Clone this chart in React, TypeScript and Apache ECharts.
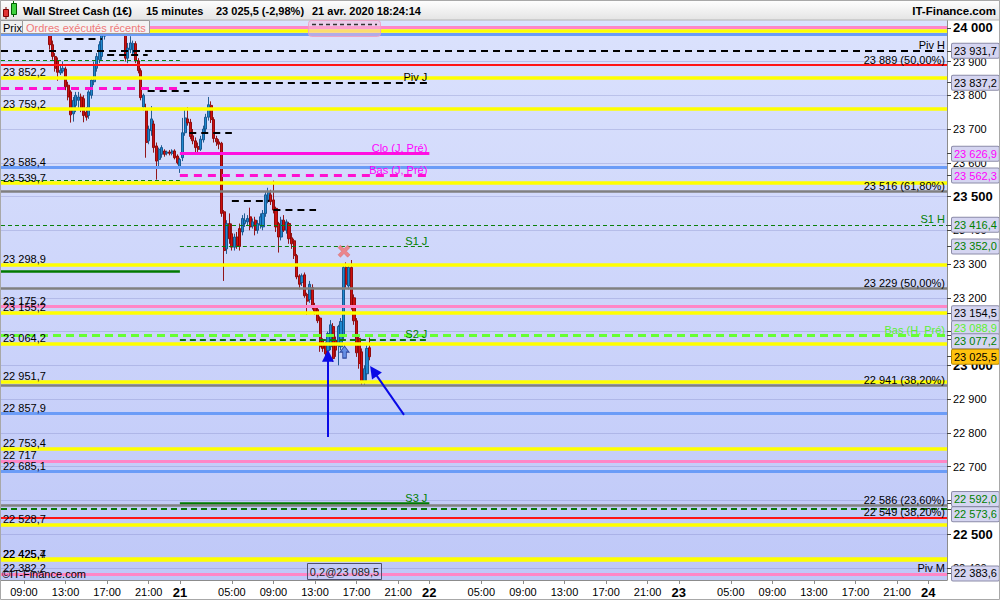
import React, { useEffect, useRef } from "react";
import * as echarts from "echarts";

const FONT = '"Liberation Sans", Arial, Helvetica, sans-serif';

// x axis: hours since 2020-04-20 00:00
const X_MIN = 6.79;
const X_MAX = 97.8;
const Y_MIN = 22364;
const Y_MAX = 24023;
const DAY_START = 24; // 21 avr. 00:00
const DAY_END = 48; // 22 avr. 00:00

const FIRST_CANDLE_HOUR = 11.5; // 20 avr. 11:30
const CANDLE_HOURS = 0.25; // 15 minutes

// [open, close, low, high]
const candles: number[][] = [
  [23995, 23950, 23935, 24012],
  [23950, 23915, 23905, 23962],
  [23915, 23880, 23870, 23925],
  [23902, 23868, 23843, 23912],
  [23866, 23874, 23860, 23888],
  [23872, 23880, 23865, 23900],
  [23878, 23825, 23815, 23885],
  [23830, 23795, 23785, 23840],
  [23810, 23742, 23719, 23815],
  [23745, 23785, 23722, 23795],
  [23770, 23800, 23750, 23810],
  [23785, 23795, 23760, 23810],
  [23795, 23760, 23750, 23805],
  [23790, 23740, 23720, 23800],
  [23750, 23735, 23725, 23765],
  [23740, 23810, 23730, 23815],
  [23800, 23845, 23790, 23850],
  [23840, 23890, 23830, 23900],
  [23880, 23915, 23870, 23925],
  [23905, 23950, 23895, 23960],
  [23915, 23982, 23905, 23995],
  [23975, 24010, 23965, 24030],
  [24010, 23995, 23988, 24025],
  [23995, 24030, 23990, 24042],
  [24030, 24050, 24020, 24065],
  [24050, 24035, 24025, 24060],
  [24035, 24015, 24005, 24045],
  [24015, 24040, 24008, 24050],
  [24040, 24005, 23995, 24050],
  [24005, 23910, 23900, 24015],
  [23910, 23940, 23895, 23955],
  [23935, 23955, 23925, 23975],
  [23925, 23953, 23918, 23962],
  [23953, 23902, 23895, 23960],
  [23902, 23873, 23865, 23910],
  [23873, 23793, 23785, 23880],
  [23765, 23800, 23755, 23805],
  [23760, 23660, 23615, 23775],
  [23665, 23700, 23655, 23710],
  [23695, 23730, 23680, 23768],
  [23715, 23645, 23630, 23725],
  [23650, 23605, 23550, 23660],
  [23610, 23640, 23590, 23645],
  [23625, 23645, 23615, 23652],
  [23635, 23625, 23618, 23640],
  [23628, 23632, 23622, 23636],
  [23632, 23628, 23622, 23638],
  [23628, 23635, 23622, 23640],
  [23635, 23615, 23610, 23640],
  [23620, 23600, 23595, 23625],
  [23585, 23610, 23570, 23615],
  [23615, 23689, 23605, 23733],
  [23689, 23733, 23680, 23760],
  [23730, 23718, 23710, 23765],
  [23720, 23678, 23670, 23730],
  [23680, 23665, 23655, 23700],
  [23665, 23645, 23625, 23675],
  [23648, 23640, 23632, 23660],
  [23640, 23670, 23635, 23680],
  [23668, 23700, 23660, 23710],
  [23700, 23735, 23690, 23745],
  [23735, 23772, 23725, 23795],
  [23770, 23728, 23718, 23782],
  [23728, 23672, 23660, 23735],
  [23672, 23662, 23650, 23680],
  [23662, 23655, 23640, 23670],
  [23658, 23450, 23440, 23662],
  [23455, 23340, 23250, 23460],
  [23345, 23420, 23330, 23430],
  [23420, 23375, 23360, 23450],
  [23390, 23350, 23340, 23420],
  [23350, 23380, 23340, 23390],
  [23380, 23355, 23345, 23395],
  [23405, 23352, 23340, 23420],
  [23395, 23435, 23385, 23445],
  [23420, 23430, 23410, 23450],
  [23425, 23435, 23415, 23445],
  [23440, 23410, 23400, 23467],
  [23412, 23425, 23405, 23435],
  [23430, 23400, 23385, 23440],
  [23400, 23420, 23390, 23430],
  [23415, 23440, 23405, 23450],
  [23410, 23450, 23400, 23460],
  [23450, 23505, 23440, 23515],
  [23490, 23515, 23480, 23526],
  [23505, 23485, 23475, 23520],
  [23490, 23460, 23450, 23547],
  [23465, 23410, 23395, 23470],
  [23420, 23380, 23334, 23425],
  [23380, 23430, 23370, 23440],
  [23430, 23400, 23395, 23445],
  [23400, 23425, 23390, 23432],
  [23420, 23375, 23360, 23425],
  [23378, 23360, 23345, 23392],
  [23369, 23325, 23315, 23375],
  [23325, 23262, 23255, 23330],
  [23265, 23240, 23225, 23270],
  [23245, 23265, 23235, 23272],
  [23268, 23206, 23200, 23275],
  [23210, 23190, 23150, 23215],
  [23195, 23240, 23185, 23250],
  [23230, 23171, 23165, 23240],
  [23175, 23160, 23150, 23185],
  [23165, 23132, 23125, 23170],
  [23140, 23055, 23040, 23145],
  [23073, 23050, 23040, 23080],
  [23064, 23034, 23020, 23070],
  [23043, 23094, 23030, 23100],
  [23055, 23120, 23045, 23134],
  [23115, 23020, 23010, 23125],
  [23075, 23045, 23025, 23085],
  [23058, 23115, 23000, 23120],
  [23055, 23130, 23045, 23140],
  [23085, 23290, 23075, 23300],
  [23290, 23240, 23230, 23305],
  [23235, 23290, 23225, 23300],
  [23290, 23175, 23165, 23312],
  [23200, 23132, 23120, 23210],
  [23132, 23037, 23025, 23140],
  [23080, 23005, 22990, 23090],
  [23040, 22950, 22942, 23050],
  [22950, 22990, 22942, 23000],
  [22975, 23050, 22950, 23060],
  [23052, 23025.5, 23015, 23082],
];

const xTickHours = [9, 13, 17, 21, 24, 29, 33, 37, 41, 45, 48, 53, 57, 61, 65, 69, 72, 77, 81, 85, 89, 93, 96];
const yTickValues = [
  22400, 22500, 22600, 22700, 22800, 22900, 23000, 23100, 23200, 23300, 23400,
  23500, 23600, 23700, 23800, 23900, 24000,
];

// full-width levels: [price, style, left label, right label, right label colour]
const fullLevels: [number, string, string, string, string][] = [
  [24002, "pink", "", "", ""],
  [23992, "yellow", "", "", ""],
  [23982, "blue", "", "", ""],
  [23931.7, "black", "", "Piv H", "black"],
  [23889, "red", "", "23 889 (50,00%)", "black"],
  [23852.2, "yellow", "23 852,2", "", ""],
  [23759.2, "yellow", "23 759,2", "", ""],
  [23585.4, "blue", "23 585,4", "", ""],
  [23539.7, "yellow", "23 539,7", "", ""],
  [23516, "gray", "", "23 516 (61,80%)", "black"],
  [23416.4, "greenThin", "", "S1 H", "green"],
  [23298.9, "yellow", "23 298,9", "", ""],
  [23229, "gray", "", "23 229 (50,00%)", "black"],
  [23175.2, "pink", "23 175,2", "", ""],
  [23155.2, "yellow", "23 155,2", "", ""],
  [23088.9, "lime", "", "Bas (H, Pré)", "lime"],
  [23064.2, "yellow", "23 064,2", "", ""],
  [22951.7, "yellow", "22 951,7", "", ""],
  [22941, "gray", "", "22 941 (38,20%)", "black"],
  [22857.9, "blue", "22 857,9", "", ""],
  [22753.4, "yellow", "22 753,4", "", ""],
  [22717, "pink", "22 717", "", ""],
  [22685.1, "blue", "22 685,1", "", ""],
  [22586, "gray", "", "22 586 (23,60%)", "black"],
  [22573.6, "green", "", "", ""],
  [22549, "red", "", "22 549 (38,20%)", "black"],
  [22528.7, "yellow", "22 528,7", "", ""],
  [22425.7, "yellow", "22 425,7", "", ""],
  [22425.4, "yellow", "22 425,4", "", ""],
  [22382.2, "pink", "22 382,2", "", ""],
  [22383.6, "none", "", "Piv M", "black"],
];

// levels of the day (21 avr.): [price, style, label, label colour]
const dayLevels: [number, string, string, string][] = [
  [23837.2, "black", "Piv J", "black"],
  [23626.9, "magenta", "Clo (J, Pré)", "magenta"],
  [23562.3, "magentaDash", "Bas (J, Pré)", "magenta"],
  [23352.0, "greenThin", "S1 J", "green"],
  [23077.2, "green", "S2 J", "green"],
  [22592.0, "darkGreen", "S3 J", "green"],
];

// levels of the previous day (20 avr.): [price, style]
const prevDayLevels: [number, string][] = [
  [23904, "greenThin"],
  [23820, "magentaDash"],
  [23549, "greenThin"],
  [23280, "darkGreen"],
];

// 4-hour pivot segments: [from hour, to hour, price]
const blockLevels: [number, number, number][] = [
  [12.9, 16.5, 23966],
  [17.0, 20.9, 23921],
  [20.9, 24.9, 23813],
  [24.9, 29.0, 23690],
  [29.0, 32.6, 23487],
  [33.0, 37.1, 23460],
];

// price tags on the axis: [price, text, colour]
const priceTags: [number, string, string][] = [
  [23931.7, "23 931,7", "black"],
  [23837.2, "23 837,2", "black"],
  [23626.9, "23 626,9", "magenta"],
  [23562.3, "23 562,3", "magenta"],
  [23416.4, "23 416,4", "green"],
  [23352.0, "23 352,0", "green"],
  [23154.5, "23 154,5", "black"],
  [23088.9, "23 088,9", "lime"],
  [23077.2, "23 077,2", "green"],
  [22592.0, "22 592,0", "green"],
  [22573.6, "22 573,6", "green"],
  [22383.6, "22 383,6", "black"],
  [23025.5, "23 025,5", "last"],
];
// vertical nudge (px) of tags that would collide, as the reference stacks them
const TAG_NUDGE: Record<string, number> = {
  "23 088,9": -7,
  "23 077,2": 2,
  "22 592,0": -4,
  "22 573,6": 5,
};

// annotation arrows: [from hour, from price, to hour, to price]
const arrows: [number, number, number, number][] = [
  [38.25, 22788, 38.25, 23028],
  [45.56, 22853, 42.63, 22983],
];
const crossMark: [number, number] = [39.79, 23338];
const orderMark: [number, number] = [39.84, 23039];

const LINE_STYLES: Record<string, any> = {
  pink: { color: "#ff86c6", width: 3, type: "solid" },
  yellow: { color: "#ffff00", width: 3.5, type: "solid" },
  blue: { color: "#6b9cf7", width: 3, type: "solid" },
  red: { color: "#ff1414", width: 2, type: "solid" },
  gray: { color: "#808080", width: 2.5, type: "solid" },
  black: { color: "#000000", width: 2.2, type: [7, 5] },
  greenThin: { color: "#0a800a", width: 1, type: [4, 3] },
  green: { color: "#0a7a0a", width: 2.2, type: [6, 4] },
  lime: { color: "#66ff33", width: 3, type: [8, 5] },
  magenta: { color: "#ff10e0", width: 3, type: "solid" },
  magentaDash: { color: "#ff10d0", width: 3, type: [8, 6] },
  darkGreen: { color: "#007a00", width: 2.5, type: "solid" },
};
const TEXT_COLORS: Record<string, string> = {
  black: "#000000",
  green: "#008000",
  lime: "#5cf030",
  magenta: "#ff00ff",
  last: "#000000",
};

function thousands(v: number): string {
  const s = Math.round(v).toString();
  return s.slice(0, s.length - 3) + " " + s.slice(-3);
}

function buildOption(): any {
  const candleData = candles.map((c, i) => [FIRST_CANDLE_HOUR + i * CANDLE_HOURS, c[0], c[1], c[2], c[3]]);
  const hidden = { color: "rgba(0,0,0,0)", width: 0, opacity: 0 };
  const txt = { fontSize: 11, fontFamily: FONT, opacity: 1 };
  const leftLabel = (t: string) =>
    t ? { show: true, position: "insideStartTop", formatter: t, color: "#000", distance: [2, 0], ...txt } : { show: false };
  const rightLabel = (t: string, c: string) => ({
    show: true,
    position: "insideEndTop",
    formatter: t,
    color: TEXT_COLORS[c],
    distance: [2, 0],
    ...txt,
  });

  const items: any[] = [];
  prevDayLevels.forEach(([v, k]) =>
    items.push([{ coord: [X_MIN, v], lineStyle: { ...LINE_STYLES[k] }, label: { show: false } }, { coord: [DAY_START, v] }])
  );
  blockLevels.forEach(([a, b, v]) =>
    items.push([{ coord: [a, v], lineStyle: { ...LINE_STYLES.black }, label: { show: false } }, { coord: [b, v] }])
  );
  dayLevels.forEach(([v, k, t, c]) =>
    items.push([{ coord: [DAY_START, v], lineStyle: { ...LINE_STYLES[k] }, label: rightLabel(t, c) }, { coord: [DAY_END, v] }])
  );
  fullLevels.forEach(([v, k, left]) => {
    if (k !== "none") items.push({ yAxis: v, lineStyle: { ...LINE_STYLES[k] }, label: leftLabel(left) });
  });
  fullLevels.forEach(([v, , , right, c]) => {
    if (right) items.push({ yAxis: v, lineStyle: hidden, label: rightLabel(right, c) });
  });
  priceTags.forEach(([v, t, c]) =>
    items.push({
      yAxis: v,
      lineStyle: hidden,
      label: {
        show: true,
        position: "end",
        distance: 5,
        offset: [0, TAG_NUDGE[t] || 0],
        formatter: t,
        color: TEXT_COLORS[c],
        backgroundColor: c === "last" ? "#ffc20e" : "#d5d5f1",
        borderColor: c === "last" ? "#b88a00" : "#8c8ca8",
        borderWidth: 1,
        borderRadius: 1,
        padding: [2, 2, 1, 2],
        ...txt,
      },
    })
  );

  const gridBg = new echarts.graphic.LinearGradient(0, 0, 0, 1, [
    { offset: 0, color: "#dbe2fd" },
    { offset: 1, color: "#bfc8f8" },
  ]);
  const headerBg = new echarts.graphic.LinearGradient(0, 0, 0, 1, [
    { offset: 0, color: "#ffffff" },
    { offset: 1, color: "#e4e4e4" },
  ]);
  const headFont = `bold 11px ${FONT}`;

  return {
    animation: false,
    backgroundColor: "#ffffff",
    grid: {
      left: 1,
      right: 53,
      top: 20,
      bottom: 20,
      show: true,
      backgroundColor: gridBg,
      borderWidth: 0,
      containLabel: false,
      outerBoundsMode: "none",
    },
    xAxis: {
      type: "value",
      min: X_MIN,
      max: X_MAX,
      axisLine: { show: true, lineStyle: { color: "#8c8c8c" } },
      axisTick: { show: true, customValues: xTickHours, length: 4, lineStyle: { color: "#8c8c8c" } },
      axisLabel: {
        customValues: xTickHours,
        color: "#000",
        fontSize: 11,
        fontFamily: FONT,
        margin: 6,
        formatter: (v: number) => {
          const h = Math.round(v);
          if (h % 24 === 0) return `{d|${20 + h / 24}}`;
          const hh = h % 24;
          return (hh < 10 ? "0" : "") + hh + ":00";
        },
        rich: { d: { fontWeight: "bold", fontSize: 13, fontFamily: FONT, color: "#000" } },
      },
      splitLine: { show: false },
    },
    yAxis: {
      type: "value",
      position: "right",
      min: Y_MIN,
      max: Y_MAX,
      axisLine: { show: true, lineStyle: { color: "#8c8c8c" } },
      axisTick: {
        show: true,
        customValues: [...yTickValues, ...priceTags.map((p) => p[0])],
        length: 4,
        lineStyle: { color: "#444" },
      },
      axisLabel: {
        customValues: yTickValues,
        color: "#000",
        fontSize: 11,
        fontFamily: FONT,
        margin: 6,
        formatter: (v: number) => (v % 500 === 0 ? `{b|${thousands(v)}}` : thousands(v)),
        rich: { b: { fontWeight: "bold", fontSize: 13, fontFamily: FONT, color: "#000" } },
      },
      splitLine: { show: false },
    },
    series: [
      {
        type: "line",
        data: [],
        silent: true,
        clip: false,
        markLine: {
          silent: true,
          symbol: "none",
          z: 1,
          animation: false,
          emphasis: { disabled: true },
          lineStyle: { color: "rgba(110,120,185,0.28)", width: 1, type: "solid" },
          label: { show: false },
          data: yTickValues.map((v) => ({ yAxis: v })),
        },
      },
      {
        type: "candlestick",
        z: 2,
        data: candleData,
        barWidth: 2.6,
        clip: true,
        silent: true,
        itemStyle: {
          color: "#1f88cf",
          color0: "#cc1010",
          borderColor: "#0f4f88",
          borderColor0: "#8a0000",
          borderWidth: 0.9,
        },
      },
      {
        type: "line",
        data: [],
        silent: true,
        clip: false,
        markLine: {
          silent: true,
          symbol: "none",
          z: 5,
          animation: false,
          emphasis: { disabled: true },
          data: items,
        },
      },
      {
        type: "scatter",
        z: 10,
        silent: true,
        data: [crossMark],
        symbol:
          "path://M0,2 L2,0 L5,3 L8,0 L10,2 L7,5 L10,8 L8,10 L5,7 L2,10 L0,8 L3,5 Z",
        symbolSize: 12,
        itemStyle: { color: "#f07070", borderColor: "#d85858", borderWidth: 0.5 },
      },
      {
        type: "scatter",
        z: 10,
        silent: true,
        data: [orderMark],
        symbol: "path://M5,0 L10,6 L7,6 L7,12 L3,12 L3,6 L0,6 Z",
        symbolSize: [9, 12],
        itemStyle: { color: "#4d7ee0", borderColor: "#1a2f88", borderWidth: 1 },
        markLine: {
          silent: true,
          z: 10,
          animation: false,
          symbol: ["none", "triangle"],
          symbolSize: 12,
          emphasis: { disabled: true },
          lineStyle: { color: "#0a0ae6", width: 2, type: "solid" },
          label: { show: false },
          data: arrows.map((a) => [{ coord: [a[0], a[1]] }, { coord: [a[2], a[3]] }]),
        },
      },
    ],
    graphic: [
      { type: "rect", z: 100, shape: { x: 0, y: 0, width: 1000, height: 20 }, style: { fill: headerBg, stroke: "#b4b4b4" } },
      { type: "line", z: 101, shape: { x1: 6, y1: 7, x2: 6, y2: 19 }, style: { stroke: "#7a0000", lineWidth: 1 } },
      { type: "rect", z: 101, shape: { x: 3.5, y: 9.5, width: 5, height: 7 }, style: { fill: "#e03434", stroke: "#7a0000" } },
      { type: "line", z: 101, shape: { x1: 13.5, y1: 1, x2: 13.5, y2: 17 }, style: { stroke: "#006600", lineWidth: 1 } },
      { type: "rect", z: 101, shape: { x: 11.5, y: 3.5, width: 5, height: 11 }, style: { fill: "#3ed23e", stroke: "#006000" } },
      { type: "text", z: 101, x: 23, y: 11, style: { text: "Wall Street Cash (1€)", font: headFont, fill: "#000", verticalAlign: "middle" } },
      { type: "text", z: 101, x: 146, y: 11, style: { text: "15 minutes", font: headFont, fill: "#000", verticalAlign: "middle" } },
      { type: "text", z: 101, x: 216, y: 11, style: { text: "23 025,5 (-2,98%)", font: headFont, fill: "#000", verticalAlign: "middle" } },
      { type: "text", z: 101, x: 312, y: 11, style: { text: "21 avr. 2020 18:24:14", font: headFont, fill: "#000", verticalAlign: "middle" } },
      { type: "text", z: 101, x: 996, y: 11, style: { text: "IT-Finance.com", font: `bold 11.5px ${FONT}`, fill: "#000", align: "right", verticalAlign: "middle" } },
      { type: "rect", z: 100, shape: { x: 0.5, y: 20.5, width: 22, height: 13 }, style: { fill: "#f0f0f0", stroke: "#9a9a9a" } },
      { type: "text", z: 101, x: 3, y: 27.5, style: { text: "Prix", font: `11px ${FONT}`, fill: "#000", verticalAlign: "middle" } },
      { type: "rect", z: 100, shape: { x: 22.5, y: 20.5, width: 127, height: 13 }, style: { fill: "#f3f3f3", stroke: "#9a9a9a" } },
      { type: "text", z: 101, x: 26, y: 27.5, style: { text: "Ordres exécutés récents", font: `11px ${FONT}`, fill: "#f07a7a", verticalAlign: "middle" } },
      { type: "rect", z: 100, shape: { x: 308.5, y: 20.5, width: 72, height: 16, r: 3 }, style: { fill: "rgba(250,185,215,0.5)", stroke: "rgba(240,160,195,0.9)" } },
      { type: "line", z: 101, shape: { x1: 312, y1: 24.5, x2: 377, y2: 24.5 }, style: { stroke: "#333", lineWidth: 1.5, lineDash: [4, 3] } },
      { type: "rect", z: 100, shape: { x: 307.5, y: 563.5, width: 74, height: 16 }, style: { fill: "rgba(210,210,245,0.25)", stroke: "#50506e" } },
      { type: "text", z: 101, x: 344.5, y: 572, style: { text: "0,2@23 089,5", font: `11px ${FONT}`, fill: "#222", align: "center", verticalAlign: "middle" } },
      { type: "text", z: 101, x: 2, y: 574, style: { text: "©IT-Finance.com", font: `11px ${FONT}`, fill: "#000", verticalAlign: "middle" } },
      { type: "rect", z: 200, shape: { x: 0.5, y: 0.5, width: 999, height: 599 }, style: { fill: "none", stroke: "#a8a8a8" } },
    ],
  };
}

export default function App() {
  const ref = useRef<HTMLDivElement>(null);
  useEffect(() => {
    if (!ref.current) return;
    const chart = echarts.init(ref.current, null, { renderer: "svg" });
    chart.setOption(buildOption());
    return () => chart.dispose();
  }, []);
  return (
    <div
      ref={ref}
      style={{ position: "fixed", left: 0, top: 0, width: 1000, height: 600, background: "#fff" }}
    />
  );
}
